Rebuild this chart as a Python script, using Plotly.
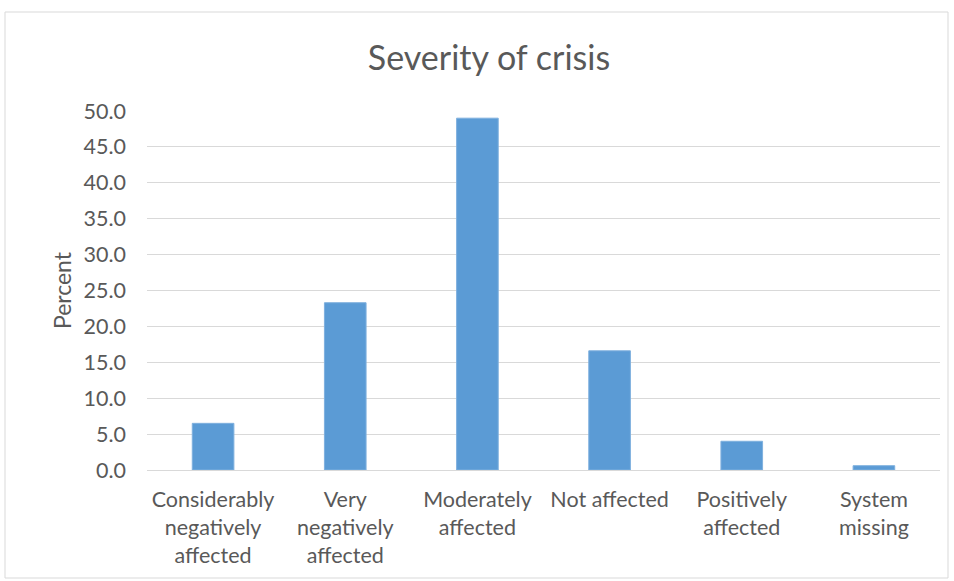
import plotly.graph_objects as go

categories = ["Considerably<br>negatively<br>affected", "Very<br>negatively<br>affected",
              "Moderately<br>affected", "Not affected", "Positively<br>affected", "System<br>missing"]
percent = [6.5, 23.3, 49.0, 16.6, 4.0, 0.6]
y_ticks = [0, 5, 10, 15, 20, 25, 30, 35, 40, 45, 50]

W, H = 954, 581
L, R, T, B = 147, 14, 111, 111
pw, ph = W - L - R, H - T - B

fig = go.Figure(go.Bar(
    x=categories, y=percent,
    marker=dict(color="#5B9BD5", line=dict(color="#7FB0DE", width=1)),
    width=0.315,
))

font = "Lato, 'Open Sans', sans-serif"
fig.update_layout(
    width=W, height=H,
    margin=dict(l=L, r=R, t=T, b=B),
    paper_bgcolor="white", plot_bgcolor="white",
    title=dict(text="Severity of crisis", x=(489) / W, xanchor="center",
               y=1 - 58 / H, yanchor="middle",
               font=dict(family=font, size=34, color="#595959")),
    font=dict(family=font, size=21, color="#595959"),
    showlegend=False,
    xaxis=dict(showgrid=False, showline=True, linecolor="#D9D9D9", linewidth=1,
               ticks="", tickfont=dict(size=21.5, color="#595959"), tickangle=0,
               ticklabelstandoff=10),
    yaxis=dict(range=[0, 50], tickvals=y_ticks, tickformat=".1f",
               showgrid=True, gridcolor="#D9D9D9", gridwidth=1,
               zeroline=False, ticks="", ticklabelstandoff=20,
               tickfont=dict(size=21.5, color="#595959"),
               title=dict(text="Percent", standoff=5,
                          font=dict(size=23, color="#595959"))),
    shapes=[dict(type="rect", xref="paper", yref="paper",
                 x0=(5 - L) / pw, x1=(948 - L) / pw,
                 y0=(H - B - 578) / ph, y1=(H - B - 12) / ph,
                 line=dict(color="#D9D9D9", width=1), fillcolor="rgba(0,0,0,0)", layer="below")],
)

fig.write_html("out.html")
